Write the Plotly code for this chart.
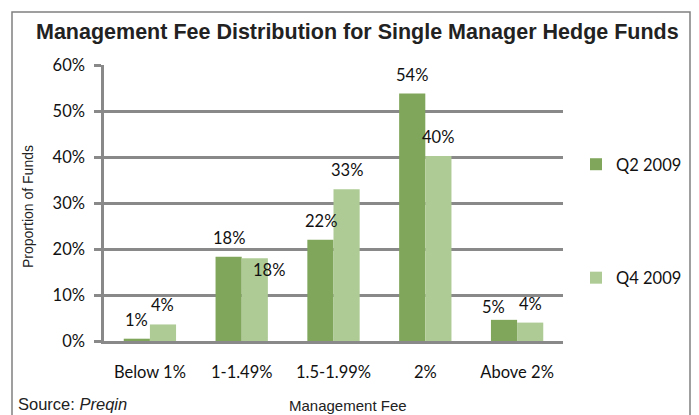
import plotly.graph_objects as go

categories = ["Below 1%", "1-1.49%", "1.5-1.99%", "2%", "Above 2%"]
q2_2009 = [0.5, 18.3, 22.0, 53.8, 4.6]
q4_2009 = [3.6, 18.0, 33.0, 40.2, 4.0]
q2_labels = ["1%", "18%", "22%", "54%", "5%"]
q4_labels = ["4%", "18%", "33%", "40%", "4%"]
y_ticks = [0, 10, 20, 30, 40, 50, 60]
y_tick_labels = ["0%", "10%", "20%", "30%", "40%", "50%", "60%"]

# page is drawn with an 8px body margin, so work in page px and shift
OFF = 8
W, H = 699, 415
L, R, T, B = 104 - OFF, 563 - OFF, 65 - OFF, 341 - OFF

def px_x(x):
    return (x - OFF - L) / (R - L)

def px_y(y):
    return (B - (y - OFF)) / (B - T)

c_q2 = "#80A65B"
c_q4 = "#AECB95"
grid = "#898989"
num_font = "Lato"
fs = 16.5

fig = go.Figure()
fig.add_trace(go.Bar(
    x=categories, y=q2_2009, name="Q2 2009", marker=dict(color=c_q2, line=dict(width=0)),
    legendgroup="a",
))
fig.add_trace(go.Bar(
    x=categories, y=q4_2009, name="Q4 2009", marker=dict(color=c_q4, line=dict(width=0)),
    legendgroup="b",
))

# data labels (Excel puts most just above the bar, a couple are nudged)
off = 13
ann = []
for i, c in enumerate(categories):
    dx, dy = -off, 19
    if i == 4:
        dx, dy = -24, 13
    ann.append(dict(x=c, y=q2_2009[i], text=q2_labels[i], showarrow=False,
                    xshift=dx, yshift=dy, yanchor="middle",
                    font=dict(family=num_font, size=fs, color="#111111")))
    dx, dy = off, 19
    if i == 1:
        dx, dy = off + 14, -12
    ann.append(dict(x=c, y=q4_2009[i], text=q4_labels[i], showarrow=False,
                    xshift=dx, yshift=dy, yanchor="middle",
                    font=dict(family=num_font, size=fs, color="#111111")))

ann.append(dict(text="<b>Management Fee Distribution for Single Manager Hedge Funds</b>",
                xref="paper", yref="paper", x=px_x(357), y=px_y(32), showarrow=False,
                xanchor="center", yanchor="middle",
                font=dict(family="Liberation Sans", size=21.5, color="#222222")))
ann.append(dict(text="Proportion of Funds", textangle=-90,
                xref="paper", yref="paper", x=px_x(28), y=px_y(207), showarrow=False,
                xanchor="center", yanchor="middle",
                font=dict(family="Liberation Sans", size=14, color="#222222")))
ann.append(dict(text="Management Fee",
                xref="paper", yref="paper", x=px_x(348), y=px_y(405), showarrow=False,
                xanchor="center", yanchor="middle",
                font=dict(family="Liberation Sans", size=15, color="#222222")))
ann.append(dict(text="Source: <i>Preqin</i>",
                xref="paper", yref="paper", x=px_x(16), y=px_y(404), showarrow=False,
                xanchor="left", yanchor="middle",
                font=dict(family="Liberation Sans", size=16.5, color="#222222")))

fig.update_layout(
    width=W, height=H,
    margin=dict(l=L, r=W - R, t=T, b=H - B, autoexpand=False),
    paper_bgcolor="white", plot_bgcolor="white",
    barmode="group", bargap=0.43, bargroupgap=0,
    showlegend=True,
    legend=dict(x=px_x(576), y=px_y(147), xanchor="left", yanchor="top",
                traceorder="grouped", tracegroupgap=89,
                font=dict(family=num_font, size=fs, color="#111111"),
                bgcolor="rgba(0,0,0,0)", itemwidth=30),
    annotations=ann,
    shapes=[dict(type="rect", xref="paper", yref="paper",
                 x0=px_x(12), x1=px_x(690), y0=px_y(440), y1=px_y(12),
                 line=dict(color="#808080", width=1.5), layer="below")],
)
fig.update_xaxes(
    showline=True, linecolor=grid, linewidth=2.5, showgrid=False, ticks="",
    tickfont=dict(family=num_font, size=fs, color="#111111"),
    ticklabelstandoff=14,
)
fig.update_yaxes(
    range=[0, 60], tickvals=y_ticks, ticktext=y_tick_labels, showgrid=True, gridcolor=grid,
    gridwidth=2.5, zeroline=False, showline=True, linecolor=grid, linewidth=2.5,
    ticks="outside", ticklen=7, tickcolor=grid, tickwidth=2.5, ticklabelstandoff=6,
    tickfont=dict(family=num_font, size=fs, color="#111111"),
)

fig.write_html("out.html")
